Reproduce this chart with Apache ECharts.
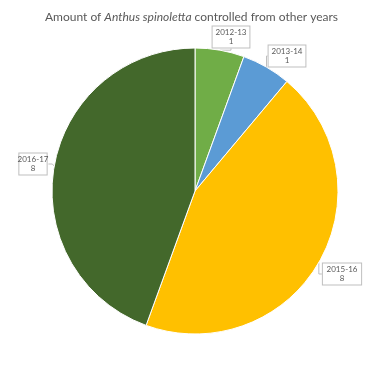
<!DOCTYPE html>
<html><head><meta charset="utf-8">
<script src="https://cdn.jsdelivr.net/npm/echarts@6/dist/echarts.min.js"></script>
<style>html,body{margin:0;padding:0;background:#fff}#c{width:383px;height:368px}</style>
</head><body><div id="c"></div>
<script>
var categories = ['2012-13', '2013-14', '2015-16', '2016-17'];
var values = [1, 1, 8, 8];
var colors = ['#70AD47', '#5B9BD5', '#FFC000', '#43682B'];
var labelPos = [[231, 37], [287, 56], [342, 274], [33, 164]];

var chart = echarts.init(document.getElementById('c'));
chart.setOption({
  backgroundColor: '#fff',
  title: {
    text: 'Amount of {i|Anthus spinoletta} controlled from other years',
    left: 'center', top: 6,
    textStyle: {
      fontFamily: 'Lato', fontSize: 12, fontWeight: 'normal', color: '#595959',
      rich: { i: { fontFamily: 'Lato', fontSize: 12, fontStyle: 'italic', color: '#595959' } }
    }
  },
  series: [{
    type: 'pie',
    center: [195, 191],
    radius: [0, 143],
    startAngle: 90,
    clockwise: true,
    animation: false,
    data: categories.map(function (c, i) {
      return { name: c, value: values[i], itemStyle: { color: colors[i] } };
    }),
    itemStyle: { borderColor: '#fff', borderWidth: 1 },
    label: {
      show: true,
      position: 'outside',
      formatter: '{b}\n{c}',
      overflow: 'none',
      fontFamily: 'Lato', fontSize: 8, color: '#595959', lineHeight: 9,
      align: 'center',
      backgroundColor: '#fff', borderColor: '#bfbfbf', borderWidth: 1,
      padding: [2, 3, 1, 3]
    },
    labelLine: { show: true, length: 8, length2: 4, lineStyle: { color: '#bfbfbf', width: 1 } },
    labelLayout: function (p) {
      var pos = labelPos[p.dataIndex];
      return { x: pos[0], y: pos[1], align: 'center', verticalAlign: 'middle' };
    }
  }]
});
</script></body></html>
